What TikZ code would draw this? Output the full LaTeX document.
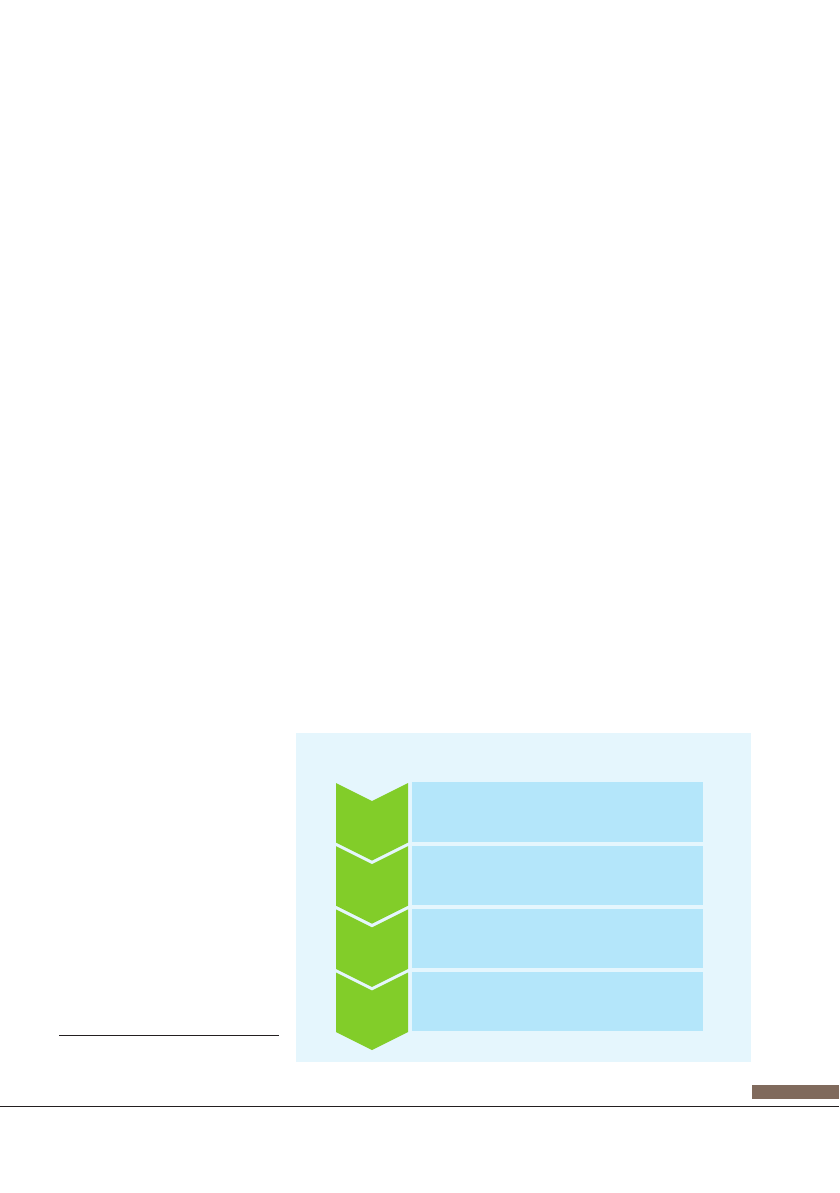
\documentclass[tikz,border=0pt]{standalone}
\definecolor{panelblue}{HTML}{E5F6FD}
\definecolor{rowblue}{HTML}{B4E6FA}
\definecolor{stepgreen}{HTML}{82CD29}
\definecolor{tabbrown}{HTML}{806A5C}
\definecolor{rulegray}{HTML}{231F20}
\begin{document}
\begin{tikzpicture}[x=0.3mm,y=-0.3mm]
    \tikzstyle{rule}=[rulegray, line width=0.3mm]
    \useasboundingbox (0,0) rectangle (839,1193);
    \fill [panelblue] (296,733) rectangle (751,1062);
    \fill [rowblue] (412,782.3) rectangle (702.7,841.7);
    \fill [rowblue] (412,845.5) rectangle (702.7,904.9);
    \fill [rowblue] (412,908.7) rectangle (702.7,968.1);
    \fill [rowblue] (412,971.9) rectangle (702.7,1031.3);
    \fill [stepgreen] (336,783) -- (372,801) -- (408,783) -- (408,842.5) -- (372,860.5) -- (336,842.5) -- cycle;
    \fill [stepgreen] (336,846.2) -- (372,864.2) -- (408,846.2) -- (408,905.7) -- (372,923.7) -- (336,905.7) -- cycle;
    \fill [stepgreen] (336,909.4) -- (372,927.4) -- (408,909.4) -- (408,968.9) -- (372,986.9) -- (336,968.9) -- cycle;
    \fill [stepgreen] (336,972.6) -- (372,990.6) -- (408,972.6) -- (408,1032.1) -- (372,1050.1) -- (336,1032.1) -- cycle;
    \draw [rule] (59,1035.3) -- (278.7,1035.3);
    \fill [tabbrown] (751.7,1085) rectangle (838.5,1099);
    \draw [rule] (0,1106.3) -- (838.5,1106.3);
\end{tikzpicture}
\end{document}
